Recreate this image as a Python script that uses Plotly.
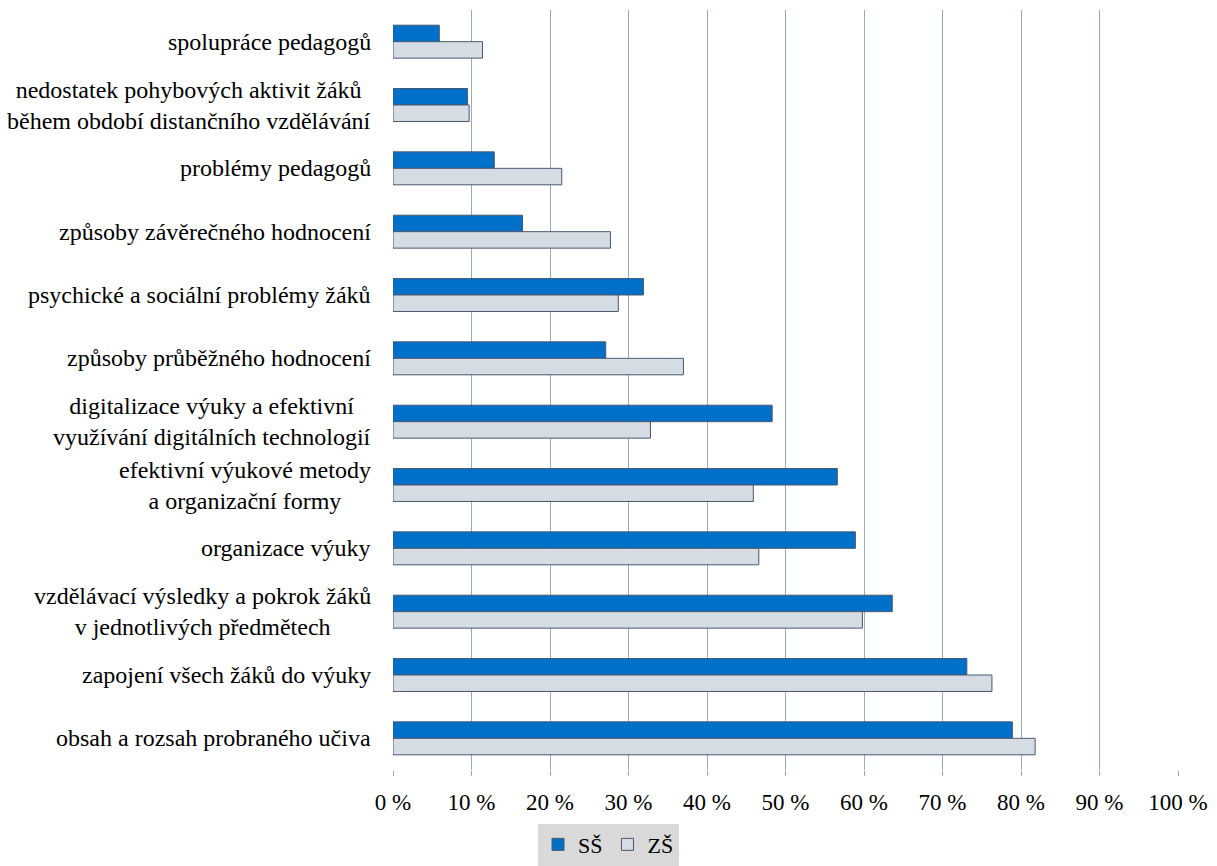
import plotly.graph_objects as go

# Oblasti (shora dolů) a podíly škol v procentech
categories = [
    "spolupráce pedagogů",
    "nedostatek pohybových aktivit žáků<br>během období distančního vzdělávání",
    "problémy pedagogů",
    "způsoby závěrečného hodnocení",
    "psychické a sociální problémy žáků",
    "způsoby průběžného hodnocení",
    "digitalizace výuky a efektivní<br>využívání digitálních technologií",
    "efektivní výukové metody<br>a organizační formy",
    "organizace výuky",
    "vzdělávací výsledky a pokrok žáků<br>v jednotlivých předmětech",
    "zapojení všech žáků do výuky",
    "obsah a rozsah probraného učiva",
]
ss_values = [5.9, 9.5, 12.9, 16.5, 31.9, 27.1, 48.3, 56.6, 58.9, 63.6, 73.1, 78.9]
zs_values = [11.4, 9.7, 21.5, 27.7, 28.7, 37.0, 32.8, 45.9, 46.6, 59.8, 76.3, 81.8]

x_ticks = list(range(0, 101, 10))
x_tick_labels = [f"{v} %" for v in x_ticks]

FONT = "Liberation Serif"
GRID = "#9ba7bd"
OUTLINE = "#4a5870"

fig = go.Figure()
fig.add_trace(go.Bar(
    name="SŠ", y=categories, x=ss_values, orientation="h",
    marker=dict(color="#0070C9", line=dict(color=OUTLINE, width=1)),
))
fig.add_trace(go.Bar(
    name="ZŠ", y=categories, x=zs_values, orientation="h",
    marker=dict(color="#D6DCE4", line=dict(color=OUTLINE, width=1)),
))

# Popisky kategorií, řádky zarovnané na střed
for cat in categories:
    fig.add_annotation(
        x=0, y=cat, xref="x", yref="y", text=cat, showarrow=False,
        xanchor="right", align="center", xshift=-20,
        font=dict(family=FONT, size=24, color="#000000"),
    )

fig.update_layout(
    width=1217, height=866,
    margin=dict(l=393, r=39, t=10, b=96, autoexpand=False),
    paper_bgcolor="white", plot_bgcolor="white",
    barmode="group", bargap=0.48, bargroupgap=0,
    font=dict(family=FONT, size=23, color="#000000"),
    showlegend=True,
    legend=dict(
        orientation="h", x=0.5, xref="container", xanchor="center",
        y=0.049, yref="container", yanchor="top", bgcolor="#D9D9D9",
        font=dict(family=FONT, size=22), itemwidth=30,
        tracegroupgap=0, traceorder="normal",
    ),
    xaxis=dict(
        range=[0, 100], tickvals=x_ticks, ticktext=x_tick_labels,
        showgrid=True, gridcolor=GRID, gridwidth=1,
        zeroline=False, showline=False,
        ticks="outside", ticklen=5, tickcolor=GRID,
        ticklabelstandoff=6,
        tickfont=dict(family=FONT, size=23),
    ),
    yaxis=dict(
        autorange="reversed", showticklabels=False, showgrid=False,
        zeroline=False, showline=False, ticks="",
    ),
)

fig.write_html("out.html")
